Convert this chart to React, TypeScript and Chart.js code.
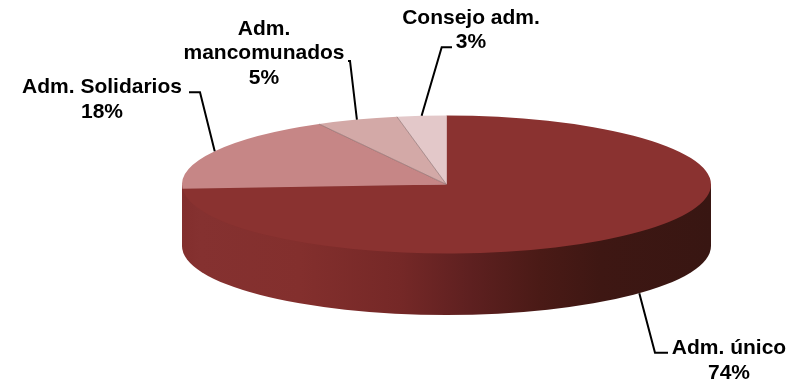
import React, { useEffect, useRef } from "react";
import { Chart, registerables } from "chart.js";

Chart.register(...registerables);

const categories = ["Adm. único", "Adm. Solidarios", "Adm. mancomunados", "Consejo adm."];
const shares = [74, 18, 5, 3];
const sliceColors = ["#8a3230", "#c68686", "#d3a9a7", "#e3c8c9"];

const labelLines = [["Adm. único"], ["Adm. Solidarios"], ["Adm.", "mancomunados"], ["Consejo adm."]];

// layout of the callouts (label block + elbow of the leader line)
const callouts = [
  { cx: 729, firstBaseline: 353.5, lineGap: 25, elbow: [655, 352.7], end: [668, 352.7], onSide: true },
  { cx: 102, firstBaseline: 92.5, lineGap: 25, elbow: [200, 92.3], end: [189, 92.3], onSide: false },
  { cx: 264, firstBaseline: 35, lineGap: 24.3, elbow: [350, 61], end: [348, 61], onSide: false },
  { cx: 471, firstBaseline: 23.5, lineGap: 24.3, elbow: [441.7, 47.3], end: [452, 47.3], onSide: false },
];

const CX = 446.5;
const CY = 184.5;
const R = 150;
const RX = 264.5;
const RY = 69;
const DEPTH = 61.5;

const wallStops: [number, string][] = [
  [182, "#822e2d"],
  [200, "#853130"],
  [300, "#832f2d"],
  [400, "#752827"],
  [470, "#5e2020"],
  [540, "#4a1a16"],
  [600, "#3e1713"],
  [711, "#381612"],
];

const pie3d = {
  id: "pie3d",
  beforeDatasetsDraw(chart: any) {
    const { ctx } = chart;
    const arc = chart.getDatasetMeta(0).data[0];
    const x = arc.x;
    const y = arc.y;
    const grad = ctx.createLinearGradient(x - RX, 0, x + RX, 0);
    wallStops.forEach(([px, c]) => grad.addColorStop((px - (x - RX)) / (2 * RX), c));
    ctx.save();
    ctx.beginPath();
    ctx.moveTo(x + RX, y);
    ctx.lineTo(x + RX, y + DEPTH);
    ctx.ellipse(x, y + DEPTH, RX, RY, 0, 0, Math.PI, false);
    ctx.lineTo(x - RX, y);
    ctx.closePath();
    ctx.fillStyle = grad;
    ctx.fill();
    ctx.restore();
    ctx.save();
    ctx.translate(x, y);
    ctx.scale(RX / arc.outerRadius, RY / arc.outerRadius);
    ctx.translate(-x, -y);
  },
  afterDatasetsDraw(chart: any) {
    const { ctx } = chart;
    ctx.restore();
    const arcs = chart.getDatasetMeta(0).data;
    const cx = arcs[0].x;
    const cy = arcs[0].y;

    // separators between the pale slices
    ctx.save();
    ctx.strokeStyle = "rgba(120,90,90,0.7)";
    ctx.lineWidth = 0.8;
    [arcs[2], arcs[3]].forEach((a: any) => {
      ctx.beginPath();
      ctx.moveTo(cx, cy);
      ctx.lineTo(cx + RX * Math.cos(a.startAngle), cy + RY * Math.sin(a.startAngle));
      ctx.stroke();
    });
    ctx.restore();

    // callouts
    ctx.save();
    ctx.strokeStyle = "#000";
    ctx.lineWidth = 2;
    ctx.fillStyle = "#000";
    ctx.font = "bold 21px 'Liberation Sans'";
    ctx.textAlign = "center";
    ctx.textBaseline = "alphabetic";
    arcs.forEach((a: any, i: number) => {
      const mid = (a.startAngle + a.endAngle) / 2;
      const c = callouts[i];
      const ax = cx + RX * Math.cos(mid);
      const ay = cy + RY * Math.sin(mid) + (c.onSide ? DEPTH : 0);
      ctx.beginPath();
      ctx.moveTo(ax, ay);
      ctx.lineTo(c.elbow[0], c.elbow[1]);
      ctx.lineTo(c.end[0], c.end[1]);
      ctx.stroke();
      const lines = [...labelLines[i], `${shares[i]}%`];
      lines.forEach((t, k) => ctx.fillText(t, c.cx, c.firstBaseline + k * c.lineGap));
    });
    ctx.restore();
  },
};

export default function App() {
  const ref = useRef<HTMLCanvasElement>(null);
  useEffect(() => {
    const chart = new Chart(ref.current as HTMLCanvasElement, {
      type: "pie",
      data: {
        labels: categories,
        datasets: [{ data: shares, backgroundColor: sliceColors, borderWidth: 0, clip: false } as any],
      },
      options: {
        responsive: false,
        animation: false,
        layout: {
          padding: { left: CX - R, right: 800 - CX - R, top: CY - R, bottom: 383 - CY - R },
        },
        plugins: { legend: { display: false }, tooltip: { enabled: false } },
      },
      plugins: [pie3d],
    });
    return () => chart.destroy();
  }, []);
  return (
    <canvas
      ref={ref}
      width={800}
      height={383}
      style={{ position: "fixed", left: 0, top: 0, width: 800, height: 383, background: "#fff" }}
    />
  );
}
